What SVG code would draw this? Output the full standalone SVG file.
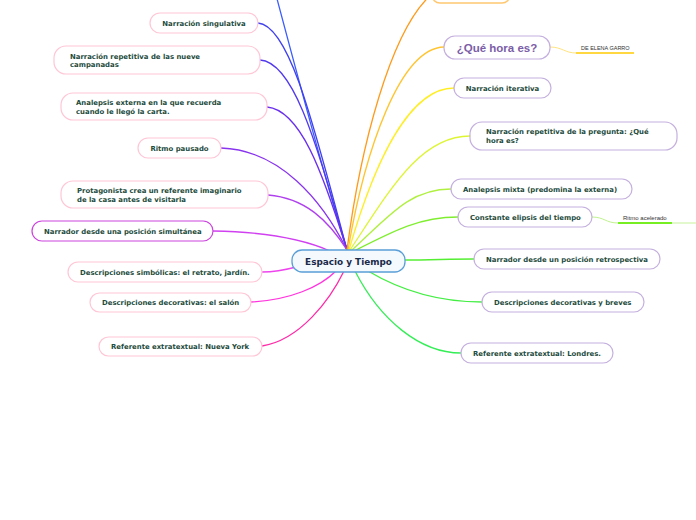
<svg xmlns="http://www.w3.org/2000/svg" width="696" height="520" viewBox="0 0 696 520">
<style>
.lnode{fill:#ffffff;stroke:#ffc6d6;stroke-width:1.2}
.rnode{fill:#ffffff;stroke:#c4b0de;stroke-width:1.2}
.t{font-family:"DejaVu Sans",Verdana,sans-serif;font-weight:bold;font-size:6.9px;fill:#1d4b3c}
.c{fill:none;stroke-width:1.3;stroke-linecap:round}
.small{font-family:"Liberation Sans",Arial,sans-serif;fill:#333333}
</style>
<rect width="696" height="520" fill="#ffffff"/>
<g id="connectors">
<path class="c" stroke="#3a5cff" d="M347,250 C 325,180 296,70 272,-20"/>
<path class="c" stroke="#4040f0" d="M258,23 C 290,25 315,130 347,250"/>
<path class="c" stroke="#5038ee" d="M260,60 C 295,62 318,150 347,250"/>
<path class="c" stroke="#6a30ee" d="M267,107 C 300,110 322,170 347,250"/>
<path class="c" stroke="#8833ee" d="M221,148 C 280,150 322,200 347,250"/>
<path class="c" stroke="#b040ee" d="M268,195 C 305,198 328,220 347,250"/>
<path class="c" stroke="#d040f0" d="M213,231 C 270,232 305,240 330,251"/>
<path class="c" stroke="#ee44ee" d="M262,272 C 275,272 285,270 296,267"/>
<path class="c" stroke="#ff33dd" d="M251,302 C 290,300 320,287 336,271"/>
<path class="c" stroke="#ff2aa8" d="M262,346 C 300,340 330,300 344,271"/>
<path class="c" stroke="#ff9a1a" d="M347,250 C 360,150 390,30 432,-6"/>
<path class="c" stroke="#ffc42e" d="M348,250 C 365,150 400,48 444,47"/>
<path class="c" stroke="#ffee22" d="M349,250 C 375,160 410,88 454,88"/>
<path class="c" stroke="#ddf533" d="M350,250 C 390,190 420,136 470,136"/>
<path class="c" stroke="#b0f040" d="M351,251 C 390,215 410,189 451,189"/>
<path class="c" stroke="#80ee30" d="M352,252 C 395,230 420,217 458,217"/>
<path class="c" stroke="#55ee33" d="M405,260 C 430,260 450,259 474,259"/>
<path class="c" stroke="#44ee44" d="M368,271 C 400,290 440,302 482,302"/>
<path class="c" stroke="#33ee55" d="M355,271 C 380,320 420,353 461,353"/>
<path fill="none" stroke="#ffe070" stroke-width="0.9" d="M550,47 C 562,47 565,53 576,53"/>
<path fill="none" stroke="#ffd740" stroke-width="2" d="M576,53 L634,53"/>
<path fill="none" stroke="#b8f080" stroke-width="0.9" d="M592,217 C 604,217 606,223 618,223"/>
<path fill="none" stroke="#77ee22" stroke-width="2" d="M618,223 L672,223"/>
<path fill="none" stroke="#c0f090" stroke-width="0.9" d="M672,223 L700,223"/>
</g>
<g id="central">
<rect x="292" y="250" width="113" height="22" rx="10" fill="#f4f9fd" stroke="#5a9fd8" stroke-width="1.3"/>
<text x="348.5" y="264.5" text-anchor="middle" font-family="DejaVu Sans,Verdana,sans-serif" font-weight="bold" font-size="8.9" fill="#1a2a4a">Espacio y Tiempo</text>
</g>
<g id="n-singulativa">
<rect class="lnode" x="150" y="13" width="108" height="20" rx="10"/>
<text class="t" x="204" y="25.5" text-anchor="middle">Narración singulativa</text>
</g>
<g id="n-campanadas">
<rect class="lnode" x="54" y="46" width="206" height="28" rx="12"/>
<text class="t" x="70" y="58.5">Narración repetitiva de las nueve</text>
<text class="t" x="70" y="67">campanadas</text>
</g>
<g id="n-analepsis-externa">
<rect class="lnode" x="61" y="93" width="206" height="27" rx="12"/>
<text class="t" x="76" y="104.5">Analepsis externa en la que recuerda</text>
<text class="t" x="76" y="113.5">cuando le llegó la carta.</text>
</g>
<g id="n-ritmo-pausado">
<rect class="lnode" x="138" y="138" width="83" height="20" rx="10"/>
<text class="t" x="179.5" y="150.5" text-anchor="middle">Ritmo pausado</text>
</g>
<g id="n-protagonista">
<rect class="lnode" x="61" y="181" width="207" height="27" rx="12"/>
<text class="t" x="77" y="192.5">Protagonista crea un referente imaginario</text>
<text class="t" x="77" y="201.5">de la casa antes de visitarla</text>
</g>
<g id="n-simultanea">
<rect x="32" y="221" width="181" height="20" rx="10" fill="#ffffff" stroke="#cc44dd" stroke-width="1.2"/>
<text class="t" x="44" y="233.5">Narrador desde una posición simultánea</text>
</g>
<g id="n-simbolicas">
<rect class="lnode" x="68" y="262" width="194" height="20" rx="10"/>
<text class="t" x="80" y="274.5">Descripciones simbólicas: el retrato, jardín.</text>
</g>
<g id="n-salon">
<rect class="lnode" x="90" y="293" width="161" height="19" rx="9.5"/>
<text class="t" x="102" y="305">Descripciones decorativas: el salón</text>
</g>
<g id="n-nueva-york">
<rect class="lnode" x="99" y="337" width="163" height="19" rx="9.5"/>
<text class="t" x="111" y="349">Referente extratextual: Nueva York</text>
</g>
<g id="n-top-orange">
<rect x="432" y="-17" width="78" height="20" rx="8" fill="#ffffff" stroke="#ffc870" stroke-width="1.5"/>
</g>
<g id="n-que-hora">
<rect class="rnode" x="444" y="36" width="106" height="23" rx="11"/>
<text x="497" y="52" text-anchor="middle" font-family="Liberation Sans,Arial,sans-serif" font-weight="bold" font-size="11.5" fill="#7b5ea7">¿Qué hora es?</text>
</g>
<g id="n-elena-garro">
<text class="small" x="581" y="49.5" font-size="5.5">DE ELENA GARRO</text>
</g>
<g id="n-iterativa">
<rect class="rnode" x="454" y="78" width="97" height="20" rx="10"/>
<text class="t" x="502.5" y="90.5" text-anchor="middle">Narración iterativa</text>
</g>
<g id="n-repetitiva-pregunta">
<rect class="rnode" x="470" y="122" width="207" height="28" rx="12"/>
<text class="t" x="486" y="134">Narración repetitiva de la pregunta: ¿Qué</text>
<text class="t" x="486" y="143">hora es?</text>
</g>
<g id="n-analepsis-mixta">
<rect class="rnode" x="451" y="179" width="181" height="20" rx="10"/>
<text class="t" x="463" y="191.5">Analepsis mixta (predomina la externa)</text>
</g>
<g id="n-elipsis">
<rect class="rnode" x="458" y="207" width="134" height="20" rx="10"/>
<text class="t" x="470" y="219.5">Constante elipsis del tiempo</text>
</g>
<g id="n-ritmo-acelerado">
<text class="small" x="623" y="219.5" font-size="6">Ritmo acelerado</text>
</g>
<g id="n-retrospectiva">
<rect class="rnode" x="474" y="249" width="186" height="20" rx="10"/>
<text class="t" x="486" y="261.5">Narrador desde un posición retrospectiva</text>
</g>
<g id="n-decorativas-breves">
<rect class="rnode" x="482" y="292" width="162" height="20" rx="10"/>
<text class="t" x="494" y="304.5">Descripciones decorativas y breves</text>
</g>
<g id="n-londres">
<rect class="rnode" x="461" y="343" width="152" height="20" rx="10"/>
<text class="t" x="473" y="355.5">Referente extratextual: Londres.</text>
</g>
</svg>
